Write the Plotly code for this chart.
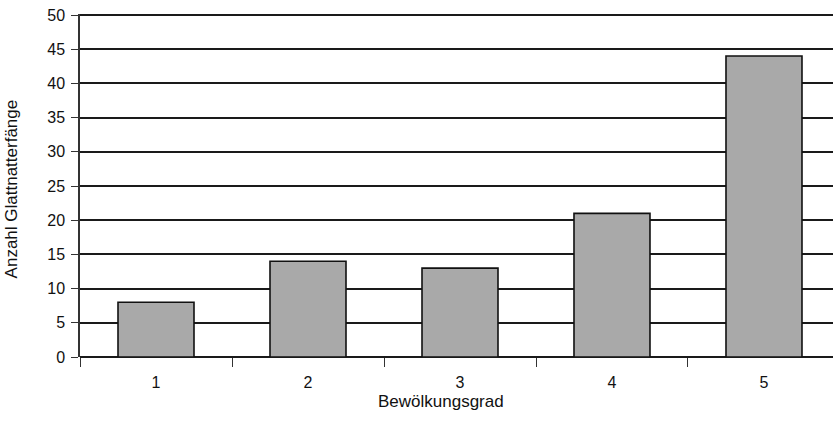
import plotly.graph_objects as go

# Cloud-cover classes and number of smooth snake captures per class
bewoelkung = ["1", "2", "3", "4", "5"]
faenge = [8, 14, 13, 21, 44]
y_ticks = [0, 5, 10, 15, 20, 25, 30, 35, 40, 45, 50]

font_family = "Liberation Sans, Arial, sans-serif"
ink = "#111111"

fig = go.Figure(
    go.Bar(
        x=bewoelkung,
        y=faenge,
        marker=dict(color="#a9a9a9", line=dict(color=ink, width=1.6)),
        width=0.5,
    )
)

fig.update_layout(
    width=833,
    height=437,
    margin=dict(l=80, r=0, t=14, b=80),
    paper_bgcolor="white",
    plot_bgcolor="white",
    showlegend=False,
    font=dict(family=font_family, size=16, color=ink),
    annotations=[
        dict(
            text="Bewölkungsgrad",
            xref="paper", yref="paper",
            x=0.479, y=-0.13,
            xanchor="center", yanchor="middle",
            showarrow=False,
            font=dict(size=17),
        ),
        dict(
            text="Anzahl Glattnatterfänge",
            xref="paper", yref="paper",
            x=-0.091, y=0.49,
            xanchor="center", yanchor="middle",
            textangle=-90,
            showarrow=False,
            font=dict(size=17),
        ),
    ],
)

fig.update_xaxes(
    type="category",
    range=[-0.5, 4.454],
    tickson="boundaries",
    ticks="outside",
    ticklen=9,
    tickwidth=1.2,
    tickcolor="#333333",
    ticklabelstandoff=14,
    showgrid=False,
    showline=False,
    zeroline=False,
    tickfont=dict(size=16),
)

fig.update_yaxes(
    range=[0, 50.15],
    tickvals=y_ticks,
    ticks="outside",
    ticklen=7,
    tickwidth=1.2,
    tickcolor="#333333",
    ticklabelstandoff=3,
    showgrid=True,
    gridcolor="#1a1a1a",
    gridwidth=1.5,
    showline=True,
    linecolor="#333333",
    linewidth=1.5,
    zeroline=True,
    zerolinecolor="#1a1a1a",
    zerolinewidth=1.5,
    tickfont=dict(size=16),
)

fig.write_html("out.html")
